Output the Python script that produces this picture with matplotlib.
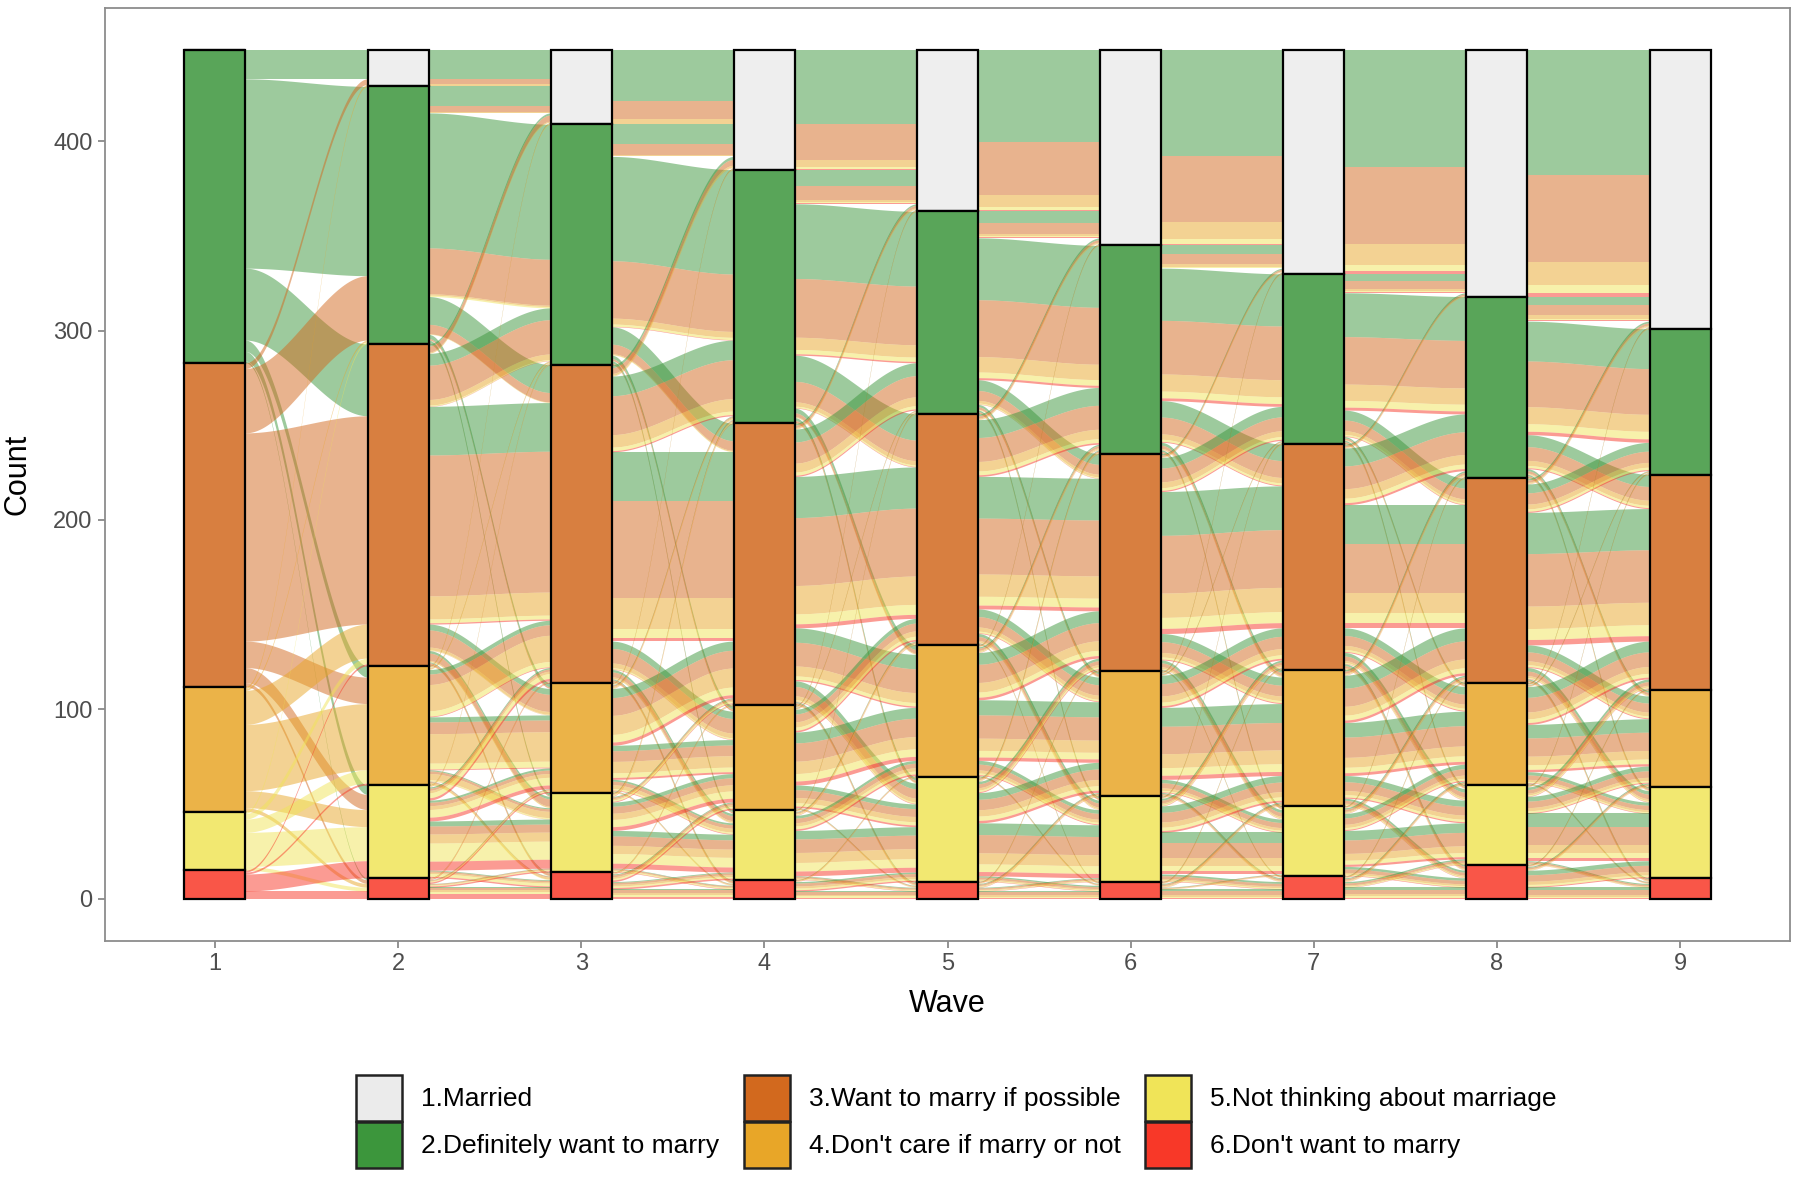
import numpy as np
import matplotlib
matplotlib.use("Agg")
import matplotlib.pyplot as plt
from matplotlib.patches import Rectangle
from matplotlib.colors import to_rgba

plt.rcParams['font.family'] = ['Liberation Sans', 'DejaVu Sans']

waves = [1, 2, 3, 4, 5, 6, 7, 8, 9]
labels = ["1.Married", "2.Definitely want to marry", "3.Want to marry if possible",
          "4.Don't care if marry or not", "5.Not thinking about marriage", "6.Don't want to marry"]
colors = ["#EBEBEB", "#3C963C", "#D2691E", "#E8A628", "#F0E458", "#F83828"]

# stratum sizes per wave
married = [0, 19, 39, 63, 85, 103, 118, 130, 147]
definitely = [165, 136, 127, 134, 107, 110, 90, 96, 77]
if_possible = [171, 170, 168, 149, 122, 115, 119, 108, 114]
dont_care = [66, 63, 58, 55, 70, 66, 72, 54, 51]
not_thinking = [31, 49, 42, 37, 55, 45, 37, 42, 48]
dont_want = [15, 11, 14, 10, 9, 9, 12, 18, 11]

# estimated transitions wave k -> k+1 (rows: from, cols: to)
t12 = [[0, 0, 0, 0, 0, 0],
       [15, 100, 38, 6, 5, 1],
       [3, 34, 110, 14, 8, 2],
       [1, 1, 18, 35, 9, 2],
       [0, 1, 3, 7, 18, 2],
       [0, 0, 1, 1, 9, 4]]
t23 = [[19, 0, 0, 0, 0, 0],
       [14, 97, 20, 3, 2, 0],
       [5, 28, 115, 14, 6, 2],
       [1, 1, 25, 28, 6, 2],
       [0, 1, 7, 11, 26, 4],
       [0, 0, 1, 2, 2, 6]]
t34 = [[39, 0, 0, 0, 0, 0],
       [17, 90, 15, 3, 2, 0],
       [6, 40, 100, 15, 5, 2],
       [1, 2, 30, 18, 6, 1],
       [0, 2, 3, 15, 20, 2],
       [0, 0, 1, 4, 4, 5]]
t45 = [[63, 0, 0, 0, 0, 0],
       [18, 80, 28, 5, 3, 0],
       [3, 25, 80, 28, 11, 2],
       [1, 1, 12, 28, 12, 1],
       [0, 1, 2, 8, 24, 2],
       [0, 0, 0, 1, 5, 4]]
t56 = [[85, 0, 0, 0, 0, 0],
       [14, 75, 13, 3, 2, 0],
       [3, 30, 70, 13, 5, 1],
       [1, 3, 25, 32, 8, 1],
       [0, 2, 6, 16, 28, 3],
       [0, 0, 1, 2, 2, 4]]
t67 = [[103, 0, 0, 0, 0, 0],
       [12, 70, 22, 4, 2, 0],
       [2, 18, 75, 14, 5, 1],
       [1, 1, 17, 38, 7, 2],
       [0, 1, 4, 14, 22, 4],
       [0, 0, 1, 2, 1, 5]]
t78 = [[118, 0, 0, 0, 0, 0],
       [10, 62, 14, 2, 2, 0],
       [2, 30, 65, 13, 6, 3],
       [0, 3, 25, 28, 12, 4],
       [0, 1, 3, 9, 19, 5],
       [0, 0, 1, 2, 3, 6]]
t89 = [[130, 0, 0, 0, 0, 0],
       [13, 60, 18, 3, 2, 0],
       [3, 15, 70, 12, 6, 2],
       [1, 1, 20, 25, 6, 1],
       [0, 1, 5, 9, 25, 2],
       [0, 0, 1, 2, 9, 6]]
transitions = [t12, t23, t34, t45, t56, t67, t78, t89]

counts = np.array([married, definitely, if_possible, dont_care, not_thinking, dont_want], float)
total = counts[:, 0].sum()
tops = total - np.vstack([np.zeros(len(waves)), np.cumsum(counts, axis=0)[:-1]])

fig = plt.figure(figsize=(18, 11.8), dpi=100)
ax = fig.add_axes([105 / 1800, 1 - 941 / 1180, 1685 / 1800, 933 / 1180])

bw = 1 / 3
# flows coloured by the answer at wave 1
comp = np.zeros((6, 5))
for a in range(1, 6):
    comp[a, a - 1] = counts[a, 0]

for k, tr in enumerate(transitions):
    T = np.array(tr, float)
    rs = comp.sum(axis=1, keepdims=True)
    share = np.divide(comp, rs, out=np.zeros_like(comp), where=rs > 0)
    fl = T[:, :, None] * share[:, None, :]
    left = np.zeros_like(fl)
    right = np.zeros_like(fl)
    for a in range(6):
        y = tops[a, k]
        for b in range(6):
            for c in range(5):
                left[a, b, c] = y
                y -= fl[a, b, c]
    for b in range(6):
        y = tops[b, k + 1]
        for a in range(6):
            for c in range(5):
                right[a, b, c] = y
                y -= fl[a, b, c]
    x0 = waves[k] + bw / 2
    x1 = waves[k + 1] - bw / 2
    xs = np.linspace(x0, x1, 80)
    t = (xs - x0) / (x1 - x0)
    s = t * t * (3 - 2 * t)
    for a in range(6):
        for b in range(6):
            for c in range(5):
                w = fl[a, b, c]
                if w < 0.05:
                    continue
                top = left[a, b, c] + (right[a, b, c] - left[a, b, c]) * s
                ax.fill_between(xs, top - w, top, color=colors[c + 1], alpha=0.5,
                                lw=0, zorder=1)
    comp = fl.sum(axis=0)

for i in range(6):
    ax.bar(waves, counts[i], bottom=tops[i] - counts[i], width=bw,
           color=to_rgba(colors[i], 0.85), edgecolor="black", linewidth=1.6, zorder=3)

ax.set_xlim(0.4, 9.6)
ax.set_ylim(-22.4, 470.4)
ax.set_xticks(waves)
ax.set_yticks([0, 100, 200, 300, 400])
ax.tick_params(colors="#7F7F7F", labelcolor="#4D4D4D", labelsize=17, length=5, width=1.2, pad=4)
for sp in ax.spines.values():
    sp.set_color("#8C8C8C")
    sp.set_linewidth(1.3)
ax.set_xlabel("Wave", fontsize=22)
ax.set_ylabel("Count", fontsize=22)
ax.xaxis.set_label_coords(0.5, -0.0675)
ax.xaxis.label.set_va("center")
ax.yaxis.set_label_coords(-0.052, 0.5)
ax.yaxis.label.set_va("center")

# legend in three columns
key_x = [356, 744, 1145]
key_y = [1075, 1122]
for i, lab in enumerate(labels):
    col, row = i // 2, i % 2
    fig.add_artist(Rectangle((key_x[col] / 1800, 1 - (key_y[row] + 46) / 1180),
                             46 / 1800, 46 / 1180, transform=fig.transFigure,
                             facecolor=colors[i], edgecolor="#222222", linewidth=1.8))
    fig.text((key_x[col] + 65) / 1800, 1 - (key_y[row] + 24) / 1180, lab,
             ha="left", va="center", fontsize=19, color="black")

fig.savefig("out.png", dpi=100)
